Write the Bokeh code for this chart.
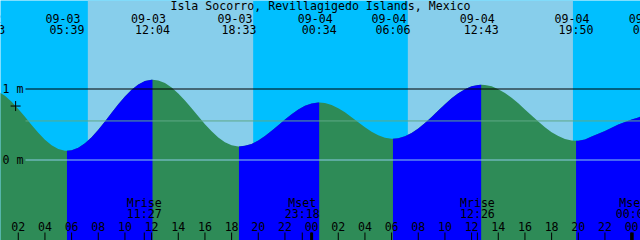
from datetime import datetime
from bokeh.plotting import figure
from bokeh.models import ColumnDataSource
from bokeh.embed import file_html
from bokeh.resources import INLINE
from bokeh.core.properties import value

# ---------------- data ----------------
title_text = "Isla Socorro, Revillagigedo Islands, Mexico"

# tide level (m) every half hour, from 09-03 00:00
sample_m = [0.995, 0.963, 0.904, 0.821, 0.719, 0.608, 0.493, 0.383, 0.286, 0.208,
            0.156, 0.131, 0.137, 0.173, 0.235, 0.321, 0.426, 0.543, 0.665, 0.785,
            0.895, 0.990, 1.064, 1.111, 1.130, 1.120, 1.083, 1.021, 0.938, 0.839,
            0.730, 0.616, 0.505, 0.404, 0.316, 0.249, 0.207, 0.190, 0.199, 0.227,
            0.275, 0.337, 0.411, 0.491, 0.571, 0.646, 0.712, 0.763, 0.796, 0.810,
            0.802, 0.775, 0.730, 0.671, 0.603, 0.531, 0.461, 0.398, 0.348, 0.315,
            0.300, 0.307, 0.334, 0.381, 0.444, 0.521, 0.607, 0.696, 0.785, 0.868,
            0.941, 0.998, 1.038, 1.058, 1.057, 1.037, 0.998, 0.944, 0.876, 0.798,
            0.713, 0.626, 0.541, 0.462, 0.392, 0.337, 0.297, 0.274, 0.272, 0.290,
            0.330, 0.370, 0.410, 0.455, 0.500, 0.535, 0.570, 0.600, 0.630]
sample_step_h = 0.5

# high / low water events
tide_events = ["09-02 23:43", "09-03 05:39", "09-03 12:04", "09-03 18:33",
               "09-04 00:34", "09-04 06:06", "09-04 12:43", "09-04 19:50",
               "09-05 01:24"]
tide_event_m = [1.00, 0.13, 1.13, 0.19, 0.81, 0.30, 1.06, 0.27, 0.645]

# sunrise / sunset pairs
sun_rise = ["09-03 07:13", "09-04 07:13"]
sun_set = ["09-03 19:37", "09-04 19:36"]

# moon events
moon_names = ["Mrise", "Mset", "Mrise", "Mset"]
moon_events = ["09-03 11:27", "09-03 23:18", "09-04 12:26", "09-05 00:07"]

depth_ticks_m = [0, 1]
mean_level_m = 0.55
hour_ticks = list(range(2, 49, 2))
mark_event = "09-03 01:48"
mark_m = 0.76

window_start = "09-03 00:40"
window_hours = 48

# ---------------- helpers ----------------
W, H = 640, 240
PX_PER_M = 71.0
ZERO_PX = 159.5
Y_TOP = ZERO_PX / PX_PER_M
Y_BOT = -(H - ZERO_PX) / PX_PER_M
TEXT_SHIFT = -4.5  # screen px correction for the text baseline

ORIGIN = datetime(1900, 9, 3)


def hrs(s):
    d = datetime.strptime(s, "%m-%d %H:%M")
    return (d - ORIGIN).total_seconds() / 3600.0


X0 = hrs(window_start)
X1 = X0 + window_hours


def xpx(px):
    return X0 + px * (X1 - X0) / W


def ypx(px):
    return Y_TOP - px * (Y_TOP - Y_BOT) / H


def typx(px):
    return ypx(px + TEXT_SHIFT)


NIGHT = "#00BFFF"
DAY = "#87CEEB"
FLOOD = "#0000FF"
EBB = "#2E8B57"

p = figure(width=W, height=H, x_range=(X0, X1), y_range=(Y_BOT, Y_TOP),
           x_axis_type=None, y_axis_type=None, toolbar_location=None,
           output_backend="svg", min_border=0)
p.grid.visible = False
p.outline_line_color = None
p.background_fill_color = NIGHT
p.border_fill_color = NIGHT

# sky
p.quad(left=[hrs(s) for s in sun_rise], right=[hrs(s) for s in sun_set],
       bottom=Y_BOT, top=Y_TOP, fill_color=DAY, line_color=None)

# water
sample_hours = [i * sample_step_h for i in range(len(sample_m))]
ev_h = [hrs(s) for s in tide_events]
pts = sorted(zip(sample_hours + ev_h, sample_m + tide_event_m))
all_x = [a for a, _ in pts]
all_y = [b for _, b in pts]
p.varea(x=all_x, y1=[Y_BOT] * len(all_x), y2=all_y, fill_color=EBB)
for i in range(len(ev_h) - 1):
    if tide_event_m[i] < tide_event_m[i + 1]:
        seg = [(a, b) for a, b in pts if ev_h[i] <= a <= ev_h[i + 1]]
        xs = [a for a, _ in seg]
        ys = [b for _, b in seg]
        p.varea(x=xs, y1=[Y_BOT] * len(xs), y2=ys, fill_color=FLOOD)

# horizontal lines
line_start = xpx(25)
p.segment(x0=[line_start], y0=[mean_level_m], x1=[X1], y1=[mean_level_m],
          line_color="#5fa886", line_width=1)
p.segment(x0=[line_start], y0=[0], x1=[X1], y1=[0], line_color="#8ccbe8", line_width=1)
p.segment(x0=[line_start], y0=[1], x1=[X1], y1=[1], line_color="black", line_width=1)

FONT = value("DejaVu Sans Mono")
FS = value("11.6px")


def add_text(xs, ys, texts, align="center", x_offset=0):
    src = ColumnDataSource(dict(x=xs, y=ys, t=texts))
    p.text(x="x", y="y", text="t", source=src, text_font=FONT, text_font_size=FS,
           text_color="black", text_align=align, text_baseline="alphabetic",
           x_offset=x_offset)


# title
add_text([(X0 + X1) / 2], [typx(10)], [title_text])

# tide event labels
add_text(ev_h, [typx(22)] * len(ev_h), [s.split()[0] for s in tide_events], x_offset=-4)
add_text(ev_h, [typx(34)] * len(ev_h), [s.split()[1] for s in tide_events])

# depth labels
add_text([xpx(2)] * len(depth_ticks_m),
         [typx(ZERO_PX + 4 - d * PX_PER_M) for d in depth_ticks_m],
         [f"{d} m" for d in depth_ticks_m], align="left")

# mark
p.scatter(x=[hrs(mark_event)], y=[mark_m], marker="cross", size=10,
          line_color="black", line_width=1)

# moon labels
moon_h = [hrs(s) for s in moon_events]
add_text(moon_h, [typx(206.5)] * len(moon_h), moon_names)
add_text(moon_h, [typx(218)] * len(moon_h), [s.split()[1] for s in moon_events])

# hour labels and ticks
add_text(hour_ticks, [typx(230)] * len(hour_ticks), [f"{h % 24:02d}" for h in hour_ticks])
tick_x = hour_ticks + moon_h
p.segment(x0=tick_x, y0=[ypx(232)] * len(tick_x), x1=tick_x, y1=[Y_BOT] * len(tick_x),
          line_color="black", line_width=1)
mid = [h for h in hour_ticks if h % 24 == 0]
p.segment(x0=mid, y0=[ypx(232)] * len(mid), x1=mid, y1=[Y_BOT] * len(mid),
          line_color="black", line_width=3)

open("out.html", "w").write(file_html(p, INLINE))
